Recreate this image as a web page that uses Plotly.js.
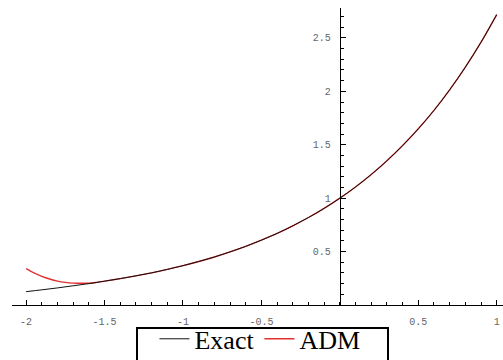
<!DOCTYPE html>
<html><head><meta charset="utf-8">
<script src="https://cdn.plot.ly/plotly-3.0.1.min.js"></script>
<style>html,body{margin:0;padding:0;background:#fff;}#chart{width:503px;height:360px;}</style>
</head><body><div id="chart"></div>
<script>
var xExact = [-2,-1.9,-1.8,-1.7,-1.6,-1.5,-1.4,-1.3,-1.2,-1.1,-1,-0.9,-0.8,-0.7,-0.6,-0.5,-0.4,-0.3,-0.2,-0.1,0,0.1,0.2,0.3,0.4,0.5,0.6,0.7,0.8,0.9,1];
var yExact = [0.125,0.142,0.160,0.180,0.200,0.223,0.247,0.273,0.301,0.333,0.368,0.407,0.449,0.497,0.549,0.607,0.670,0.741,0.819,0.905,1.0,1.105,1.221,1.350,1.492,1.649,1.822,2.014,2.226,2.460,2.718];
var xADM = [-2,-1.95,-1.9,-1.85,-1.8,-1.75,-1.7,-1.65,-1.6,-1.55,-1.5,-1.4,-1.3,-1.2,-1.1,-1,-0.9,-0.8,-0.7,-0.6,-0.5,-0.4,-0.3,-0.2,-0.1,0,0.1,0.2,0.3,0.4,0.5,0.6,0.7,0.8,0.9,1];
var yADM = [0.340,0.300,0.268,0.243,0.224,0.212,0.205,0.203,0.204,0.212,0.223,0.247,0.273,0.301,0.333,0.368,0.407,0.449,0.497,0.549,0.607,0.670,0.741,0.819,0.905,1.0,1.105,1.221,1.350,1.492,1.649,1.822,2.014,2.226,2.460,2.718];
var xTickVals = [-2,-1.5,-1,-0.5,0.5,1];
var xTickText = ['-2','-1.5','-1','-0.5','0.5','1'];
var yTickVals = [0.5,1,1.5,2,2.5];
var yTickText = ['0.5','1','1.5','2','2.5'];

var traces = [
  {x:xADM, y:yADM, name:'ADM', mode:'lines', line:{color:'#e03030', width:1.4, shape:'spline'}},
  {x:xExact, y:yExact, name:'Exact', mode:'lines', line:{color:'#111', width:1, shape:'spline'}}
];
var tickFont = {family:'Liberation Mono, DejaVu Sans Mono, monospace', size:10, color:'#666'};
// plot area: left 12, right 503, top 8, bottom 305
var layout = {
  width:503, height:360,
  margin:{l:12, r:0, t:8, b:55, autoexpand:false},
  paper_bgcolor:'#fff', plot_bgcolor:'#fff',
  showlegend:true,
  legend:{orientation:'h', traceorder:'reversed', x:0.505, xanchor:'center', y:-0.035, yanchor:'top',
    borderwidth:0, bgcolor:'rgba(0,0,0,0)',
    font:{family:'Liberation Serif, Times New Roman, serif', size:26, color:'#000'}},
  shapes:[{type:'rect', xref:'paper', yref:'paper',
    x0:(137-12)/491, x1:(388-12)/491, y0:(305-363)/297, y1:(305-328)/297,
    line:{color:'#000', width:2}, fillcolor:'rgba(0,0,0,0)', layer:'above'}],
  xaxis:{range:[-2.09,1.04], showgrid:false, zeroline:false, showline:true, linecolor:'#000', linewidth:1.3,
    ticks:'inside', ticklen:5, tickcolor:'#000', tickvals:xTickVals, ticktext:xTickText, tickfont:tickFont,
    ticklabelstandoff:7,
    minor:{dtick:0.1, tick0:0, ticks:'inside', ticklen:3, tickcolor:'#000'}},
  yaxis:{range:[0,2.78], showgrid:false, zeroline:false, showline:true, linecolor:'#000', linewidth:1.3,
    anchor:'free', position:0.6677, side:'left',
    ticks:'inside', ticklen:5, tickcolor:'#000', tickvals:yTickVals, ticktext:yTickText, tickfont:tickFont,
    ticklabelstandoff:7,
    minor:{dtick:0.1, tick0:0, ticks:'inside', ticklen:3, tickcolor:'#000'}}
};
Plotly.newPlot('chart', traces, layout, {displayModeBar:false, staticPlot:true});
</script></body></html>
